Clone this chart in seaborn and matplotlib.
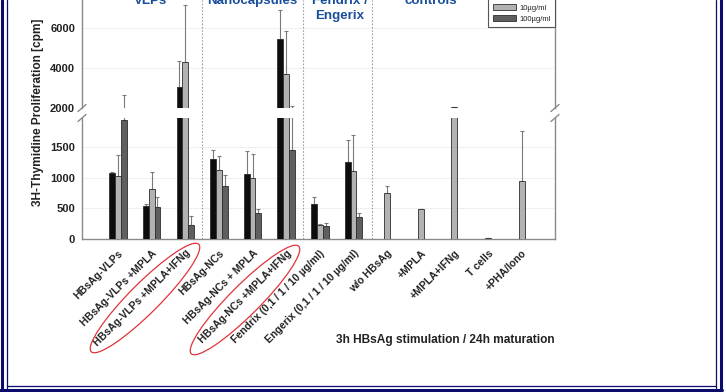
import numpy as np
import pandas as pd
import matplotlib
matplotlib.use("Agg")
import matplotlib.pyplot as plt
import seaborn as sns
from matplotlib.patches import Ellipse
from matplotlib.lines import Line2D
from matplotlib.transforms import IdentityTransform

# ---------------------------------------------------------
# data
# ---------------------------------------------------------
conditions = [
    "HBsAg-VLPs", "HBsAg-VLPs +MPLA", "HBsAg-VLPs +MPLA+IFNg",
    "HBsAg-NCs", "HBsAg-NCs + MPLA", "HBsAg-NCs +MPLA+IFNg",
    "Fendrix (0,1 / 1 / 10 µg/ml)", "Engerix (0,1 / 1 / 10 µg/ml)",
    "w/o HBsAg", "+MPLA", "+MPLA+IFNg", "T cells", "+PHA/Iono",
]
doses = ["1µg/ml", "10µg/ml", "100µg/ml"]
nan = np.nan

vals_1 = [1080, 540, 3030, 1310, 1060, 5460, 580, 1260, nan, nan, nan, nan, nan]
top_1 = [1095, 570, 4360, 1460, 1440, 6880, 680, 1620, nan, nan, nan, nan, nan]
vals_10 = [1030, 820, 4310, 1125, 1000, 3720, 230, 1120, 750, 485, 2030, 10, 955]
top_10 = [1380, 1100, 7150, 1355, 1390, 5840, 245, 1710, 870, 492, 2060, 20, 1775]
vals_100 = [1950, 530, 230, 865, 420, 1455, 210, 365, nan, nan, nan, nan, nan]
top_100 = [2650, 690, 375, 1055, 490, 2100, 270, 430, nan, nan, nan, nan, nan]

group_titles = ["VLPs", "Nanocapsules", "Fendrix /\nEngerix", "controls"]
group_title_px = [151, 252, 340, 431]
separators = [2.5, 5.5, 7.55]

rows = []
for dose, vals, tops in zip(doses, [vals_1, vals_10, vals_100], [top_1, top_10, top_100]):
    for cond, v, t in zip(conditions, vals, tops):
        rows.append({"cond": cond, "dose": dose, "value": v, "top": t})
df = pd.DataFrame(rows)
df_bars = df.dropna(subset=["value"])

# ---------------------------------------------------------
# style
# ---------------------------------------------------------
sns.set_style("white")
plt.rcParams["font.family"] = ["Liberation Sans", "DejaVu Sans"]
plt.rcParams["font.weight"] = "bold"

W, H = 726, 392
palette = ["#0d0d0d", "#b2b2b2", "#5f5f5f"]
spine_c = "#8a8a8a"
text_c = "#222222"
blue = "#1a4f9c"
navy = "#0b0b6b"

fig = plt.figure(figsize=(W / 100, H / 100), dpi=100)
fig.patch.set_facecolor("white")

left, right = 82 / W, 555 / W
ax_up = fig.add_axes([left, (H - 108) / H, right - left, 108 / H])
ax_lo = fig.add_axes([left, (H - 239) / H, right - left, 121 / H])


def draw(ax, legend):
    sns.barplot(data=df_bars, x="cond", y="value", hue="dose", order=conditions,
                hue_order=doses, palette=palette, width=0.52, edgecolor="#2e2e2e",
                linewidth=0.6, saturation=1, legend=legend, ax=ax, zorder=3)
    for cont, dose in zip(ax.containers, doses):
        sub = df[df["dose"] == dose].set_index("cond")
        for bar in cont:
            xc = bar.get_x() + bar.get_width() / 2
            cond = conditions[int(round(xc))]
            v, t = sub.loc[cond, "value"], sub.loc[cond, "top"]
            ax.errorbar([xc], [v], yerr=[[0], [t - v]], fmt="none",
                        ecolor="#7a7a7a", elinewidth=0.8, capsize=1.6,
                        capthick=0.8, zorder=2)
    ax.grid(axis="y", color="#e4e4e4", ls=(0, (2, 1)), lw=0.6)
    ax.set_axisbelow(True)
    ax.set_xlim(-1.07, 12.99)
    ax.set_xlabel("")
    ax.set_ylabel("")
    for side in ["left", "right", "bottom", "top"]:
        ax.spines[side].set_color(spine_c)
        ax.spines[side].set_linewidth(1.0)
    ax.tick_params(axis="y", length=3, width=0.8, color=spine_c, pad=2,
                   labelsize=8, labelcolor=text_c)


draw(ax_up, True)
draw(ax_lo, False)

# dotted group separators, running through the break as well
for s in separators:
    ax_up.axvline(s, color="#a0a0a0", ls=(0, (1.5, 1.5)), lw=0.8, zorder=1)
    ax_lo.axvline(s, ymin=0, ymax=1 + 10 / 121, color="#a0a0a0",
                  ls=(0, (1.5, 1.5)), lw=0.8, zorder=1, clip_on=False)

ax_up.set_ylim(2000, 7400)
ax_up.set_yticks([2000, 4000, 6000])
ax_up.spines["top"].set_visible(False)
ax_up.spines["bottom"].set_visible(False)
ax_up.tick_params(axis="x", bottom=False, labelbottom=False)

ax_lo.set_ylim(0, 1980)
ax_lo.set_yticks([0, 500, 1000, 1500])
ax_lo.spines["top"].set_visible(False)
ax_lo.tick_params(axis="x", length=2.5, width=0.8, color=spine_c, pad=4,
                  labelsize=7.5, labelcolor=text_c)
for lab in ax_lo.get_xticklabels():
    lab.set_rotation(45)
    lab.set_ha("right")
    lab.set_rotation_mode("anchor")
    lab.set_fontweight("bold")
for lab in ax_lo.get_yticklabels() + ax_up.get_yticklabels():
    lab.set_fontweight("bold")

# legend
handles, labels = ax_up.get_legend_handles_labels()
ax_up.legend(handles, labels, loc="lower right", bbox_to_anchor=(1.0, 81 / 108),
             borderaxespad=0, fontsize=5.5, frameon=True, fancybox=False,
             edgecolor="#555555", framealpha=1, handlelength=3.0,
             handleheight=0.9, labelspacing=0.45, borderpad=0.55,
             handletextpad=0.5, title=None)
leg = ax_up.get_legend()
leg.get_frame().set_linewidth(0.8)
for t in leg.get_texts():
    t.set_fontweight("normal")
    t.set_color(text_c)

# axis break marks
dx = 4 / 473
for x0 in (0, 1):
    ax_up.plot([x0 - dx, x0 + dx], [-3.5 / 108, 3.5 / 108], transform=ax_up.transAxes,
               color=spine_c, lw=1.0, clip_on=False)
    ax_lo.plot([x0 - dx, x0 + dx], [1 - 3.5 / 121, 1 + 3.5 / 121],
               transform=ax_lo.transAxes, color=spine_c, lw=1.0, clip_on=False)

# labels
fig.text(38 / W, 1 - 112 / H, "3H-Thymidine Proliferation [cpm]", rotation=90,
         ha="center", va="center", fontsize=8.6, fontweight="bold", color=text_c)
fig.text(445 / W, 1 - 340 / H, "3h HBsAg stimulation / 24h maturation",
         ha="center", va="center", fontsize=8.6, fontweight="bold", color=text_c)

for title, xp in zip(group_titles, group_title_px):
    fig.text(xp / W, 1 + 5 / H, title, ha="center", va="top", fontsize=9.6,
             fontweight="bold", color=blue, linespacing=1.3)

# red ellipses around the highlighted labels
for cx, cy in [(145, 298), (245, 300)]:
    fig.add_artist(Ellipse((cx, H - cy), width=152, height=30, angle=45,
                           transform=IdentityTransform(), fill=False,
                           edgecolor="#e2333b", lw=0.9))

# navy frame
for x in (1.5, 720.5):
    fig.add_artist(Line2D([x, x], [0, H], transform=IdentityTransform(),
                          color=navy, lw=2.2))
for x in (6.5, 716):
    fig.add_artist(Line2D([x, x], [0, H], transform=IdentityTransform(),
                          color=navy, lw=0.9))
fig.add_artist(Line2D([0, 722], [2, 2], transform=IdentityTransform(),
                      color=navy, lw=2.2))
fig.add_artist(Line2D([6.5, 716], [6.5, 6.5], transform=IdentityTransform(),
                      color=navy, lw=0.9))

fig.savefig("out.png", dpi=100, facecolor="white")
